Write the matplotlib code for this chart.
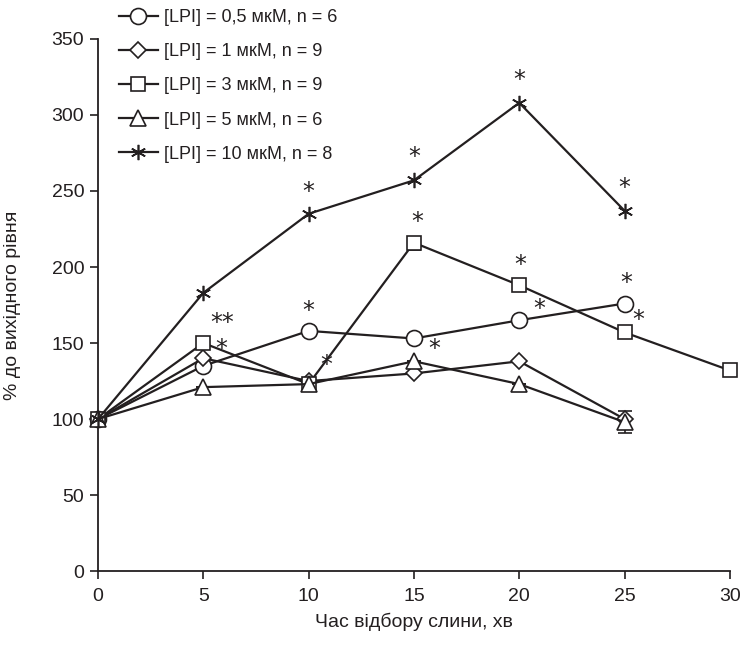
import numpy as np
import matplotlib
matplotlib.use('Agg')
from matplotlib import pyplot as plt

plt.rcParams['font.family'] = ['Liberation Sans', 'DejaVu Sans']

# Data
time_min = [0, 5, 10, 15, 20, 25, 30]

lpi_05 = [100, 135, 158, 153, 165, 176]
lpi_1 = [100, 140, 125, 130, 138, 100]
lpi_3 = [100, 150, 123, 216, 188, 157, 132]
lpi_5 = [100, 121, 123, 138, 123, 98]
lpi_10 = [100, 183, 235, 257, 308, 237]

lpi_3_err = [0, 0, 0, 5, 0, 0, 0]
lpi_5_err = [0, 0, 0, 0, 0, 7]

labels = ['[LPI] = 0,5 мкМ, n = 6', '[LPI] = 1 мкМ, n = 9', '[LPI] = 3 мкМ, n = 9',
          '[LPI] = 5 мкМ, n = 6', '[LPI] = 10 мкМ, n = 8']

# significance marks: (series index, point index, text, dx px, dy px)
sig_marks = [
    (0, 2, '*', 0, 20), (0, 4, '*', 20, 11), (0, 5, '*', 2, 21),
    (1, 1, '*', 18, 9),
    (2, 1, '**', 19, 20), (2, 2, '*', 18, 19), (2, 3, '*', 3, 21),
    (2, 4, '*', 1, 20), (2, 5, '*', 14, 12),
    (3, 3, '*', 20, 12),
    (4, 2, '*', 0, 22), (4, 3, '*', 0, 23), (4, 4, '*', 0, 23), (4, 5, '*', 0, 23),
]

col = '#231f20'
series = [lpi_05, lpi_1, lpi_3, lpi_5, lpi_10]
markers = ['o', 'D', 's', '^', (6, 2, 0)]
msizes = [11.5, 8, 10.5, 11.5, 11]

fig = plt.figure(figsize=(7.54, 6.49), dpi=100)
ax = fig.add_axes([0.130, 0.120, 0.838, 0.820])

handles = []
for i, ys in enumerate(series):
    xs = time_min[:len(ys)]
    h, = ax.plot(xs, ys, color=col, lw=1.6, marker=markers[i], ms=msizes[i],
                 mfc='white', mec=col, mew=1.2, label=labels[i], clip_on=False, zorder=3)
    handles.append(h)

ax.errorbar(time_min, lpi_3, yerr=[lpi_3_err, [0] * 7], fmt='none', ecolor=col,
            elinewidth=1.2, capsize=5, capthick=1.2, zorder=2)
ax.errorbar(time_min[:6], lpi_5, yerr=lpi_5_err, fmt='none', ecolor=col,
            elinewidth=1.2, capsize=5, capthick=1.2, zorder=2)

for si, pi, txt, dx, dy in sig_marks:
    ax.annotate(txt, (time_min[pi], series[si][pi]), xytext=(dx * 0.72, dy * 0.72),
                textcoords='offset points', ha='center', va='center', fontsize=17,
                color=col, family='DejaVu Sans')

ax.set_xlim(0, 30)
ax.set_ylim(0, 350)
ax.set_xticks(range(0, 31, 5))
ax.set_yticks(range(0, 351, 50))
ax.spines['top'].set_visible(False)
ax.spines['right'].set_visible(False)
for s in ['left', 'bottom']:
    ax.spines[s].set_linewidth(1.3)
    ax.spines[s].set_color(col)
ax.tick_params(direction='out', length=6, width=1.2, color=col, labelsize=14, labelcolor=col)
ax.tick_params(axis='y', pad=4)
ax.tick_params(axis='x', pad=6)

ax.set_xlabel('Час відбору слини, хв', fontsize=14, color=col, labelpad=6)
ax.set_ylabel('% до вихідного рівня', fontsize=14, color=col, labelpad=22)

leg = ax.legend(handles=handles, loc='upper left', bbox_to_anchor=(0.033, 1.056),
                frameon=False, fontsize=13, handlelength=2.15, handletextpad=0.33,
                labelspacing=0.95, borderaxespad=0, borderpad=0)
for t in leg.get_texts():
    t.set_color(col)

fig.savefig('out.png', dpi=100, facecolor='white')
